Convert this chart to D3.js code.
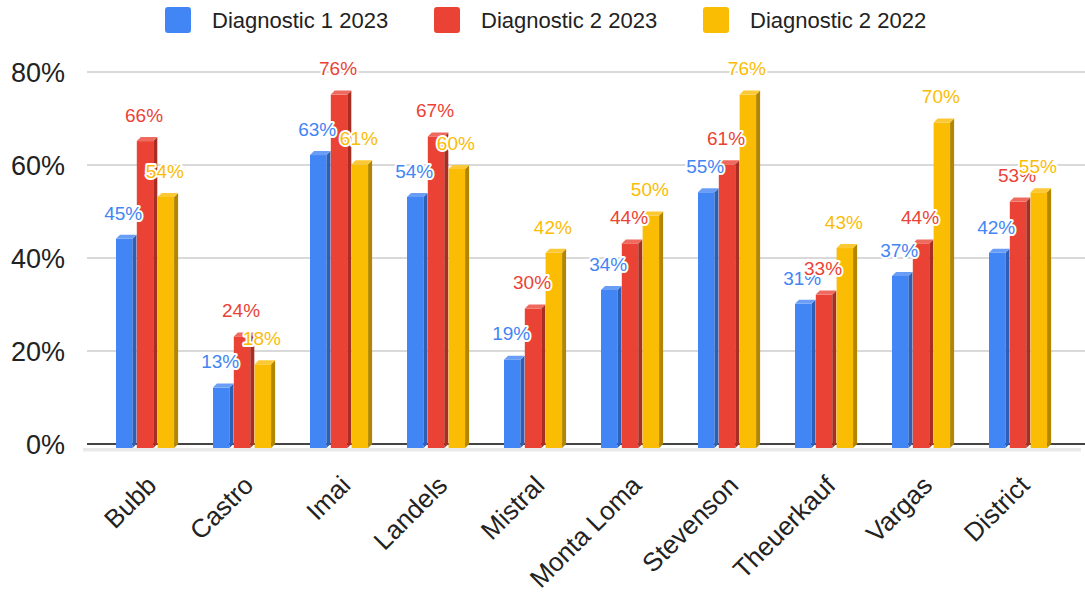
<!DOCTYPE html>
<html>
<head>
<meta charset="utf-8">
<script src="https://cdn.jsdelivr.net/npm/d3@7"></script>
<style>
  body { margin: 0; background: #fff; }
  svg { display: block; font-family: "Liberation Sans", Arial, sans-serif; }
</style>
</head>
<body>
<div id="chart"></div>
<script>
// Chart data
const categories = ["Bubb", "Castro", "Imai", "Landels", "Mistral", "Monta Loma", "Stevenson", "Theuerkauf", "Vargas", "District"];
const seriesNames = ["Diagnostic 1 2023", "Diagnostic 2 2023", "Diagnostic 2 2022"];
const diag1_2023 = [45, 13, 63, 54, 19, 34, 55, 31, 37, 42];
const diag2_2023 = [66, 24, 76, 67, 30, 44, 61, 33, 44, 53];
const diag2_2022 = [54, 18, 61, 60, 42, 50, 76, 43, 70, 55];
const yTicks = [0, 20, 40, 60, 80];

const seriesValues = [diag1_2023, diag2_2023, diag2_2022];

// Colours: front, side, top
const colors = [
  { front: "#4285f4", side: "#2c5fb5", top: "#6a9ef6" },
  { front: "#ea4335", side: "#a82d22", top: "#ef6a5e" },
  { front: "#fbbc04", side: "#b38602", top: "#fcc936" }
];

const width = 1085;
const height = 592;
const depth = 4;

const svg = d3.select("#chart")
  .append("svg")
  .attr("width", width)
  .attr("height", height);

// Scales
const x0 = d3.scaleBand()
  .domain(categories)
  .range([96.5, 1066.5]);

const x1 = d3.scaleBand()
  .domain(seriesNames)
  .range([-29, 29.1])
  .paddingInner(0.207);

const y = d3.scaleLinear()
  .domain([0, 80])
  .range([444, 72]);

const plotLeft = 87;
const plotRight = 1085;

// Gridlines
svg.append("g")
  .selectAll("line")
  .data(yTicks.filter(d => d > 0))
  .enter().append("line")
  .attr("x1", plotLeft)
  .attr("x2", plotRight)
  .attr("y1", d => y(d))
  .attr("y2", d => y(d))
  .attr("stroke", "#cccccc")
  .attr("stroke-width", 1.6);

// Y axis labels
svg.append("g")
  .selectAll("text")
  .data(yTicks)
  .enter().append("text")
  .attr("x", 65)
  .attr("y", d => y(d))
  .attr("dy", "0.36em")
  .attr("text-anchor", "end")
  .attr("font-size", 27)
  .attr("fill", "#222")
  .text(d => d + "%");

// Floor edge and baseline
svg.append("rect")
  .attr("x", plotLeft - depth)
  .attr("y", y(0) + depth)
  .attr("width", plotRight - plotLeft)
  .attr("height", 3.5)
  .attr("fill", "#e9e9e9");

svg.append("line")
  .attr("x1", plotLeft)
  .attr("x2", plotRight)
  .attr("y1", y(0))
  .attr("y2", y(0))
  .attr("stroke", "#444")
  .attr("stroke-width", 2);

// Bars with a 3D look
const barData = [];
categories.forEach((cat, i) => {
  seriesNames.forEach((s, j) => {
    barData.push({ cat: cat, series: s, j: j, value: seriesValues[j][i] });
  });
});

const w = x1.bandwidth();
const bars = svg.append("g")
  .selectAll("g")
  .data(barData)
  .enter().append("g");

const fx = d => x0(d.cat) + x0.bandwidth() / 2 + x1(d.series);

bars.append("rect")
  .attr("x", d => fx(d))
  .attr("y", d => y(d.value) + depth)
  .attr("width", w)
  .attr("height", d => y(0) - y(d.value))
  .attr("fill", d => colors[d.j].front);

bars.append("polygon")
  .attr("points", d => {
    const l = fx(d), t = y(d.value), b = y(0);
    return [[l + w, t + depth], [l + w + depth, t], [l + w + depth, b], [l + w, b + depth]].join(" ");
  })
  .attr("fill", d => colors[d.j].side);

bars.append("polygon")
  .attr("points", d => {
    const l = fx(d), t = y(d.value);
    return [[l, t + depth], [l + depth, t], [l + w + depth, t], [l + w, t + depth]].join(" ");
  })
  .attr("fill", d => colors[d.j].top);

// Data labels
svg.append("g")
  .selectAll("text")
  .data(barData)
  .enter().append("text")
  .attr("x", d => fx(d) + w / 2 - 1)
  .attr("y", d => y(d.value) - 22)
  .attr("dy", "0.36em")
  .attr("text-anchor", "middle")
  .attr("font-size", 19)
  .attr("fill", d => colors[d.j].front)
  .attr("stroke", "#fff")
  .attr("stroke-width", 4)
  .attr("stroke-linejoin", "round")
  .attr("paint-order", "stroke")
  .text(d => d.value + "%");

// X axis labels
svg.append("g")
  .selectAll("text")
  .data(categories)
  .enter().append("text")
  .attr("transform", d => "translate(" + (x0(d) + x0.bandwidth() / 2 + 13) + ",487) rotate(-45)")
  .attr("text-anchor", "end")
  .attr("font-size", 26)
  .attr("fill", "#222")
  .text(d => d);

// Legend
const legendX = [165, 434, 703];
const legend = svg.append("g")
  .selectAll("g")
  .data(seriesNames)
  .enter().append("g")
  .attr("transform", (d, i) => "translate(" + legendX[i] + ",7)");

legend.append("rect")
  .attr("width", 26)
  .attr("height", 26)
  .attr("rx", 3)
  .attr("fill", (d, i) => colors[i].front);

legend.append("text")
  .attr("x", 47)
  .attr("y", 13)
  .attr("dy", "0.36em")
  .attr("font-size", 22)
  .attr("fill", "#222")
  .text(d => d);
</script>
</body>
</html>
